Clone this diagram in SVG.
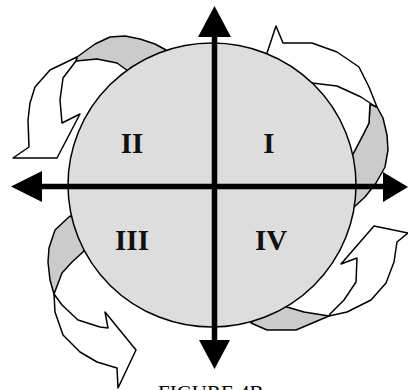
<svg xmlns="http://www.w3.org/2000/svg" width="408" height="390" viewBox="0 0 408 390">
<style>
.rb{stroke:#000;stroke-width:1.5;stroke-linejoin:round}
.back{fill:#cbcbcb}
.front{fill:#fff}
.ax{stroke:#000;stroke-width:5.5}
.lbl{font-family:"Liberation Serif","Times New Roman",serif;font-weight:bold;font-size:29px;text-anchor:middle;fill:#111}
.cap{font-family:"Liberation Serif","Times New Roman",serif;font-size:21px;fill:#000}
</style>
<rect width="408" height="390" fill="#fff"/>
<g id="connectors">
<g id="arrow-tl">
<polygon class="rb back" points="77,57 95,44 110,37 125,36 140,39 155,44 166,50 150,75 128,71 117,63 97,59 76,61"/>
<polygon class="rb front" points="77,57 50,70 35,87 30,103 28,120 29,147 13,158 57,158 80,114 62,123 60,100 63,78 76,61"/>
</g>
<g id="arrow-tr">
<polygon class="rb back" points="370,104 377,107 383,118 387,135 388,150 385,167 376,183 365,197 353,208 335,180 352,156 364,133 369,123"/>
<polygon class="rb front" points="276,26 283,43 312,43 337,52 359,67 369,87 377,107 370,104 369,123 364,133 352,156 330,130 267,53"/>
<polyline class="rb" fill="none" points="312,83 337,86 361,97 376,107"/>
</g>
<g id="arrow-br">
<polygon class="rb back" points="251,323 267,330 296,330 329,316 304,312 287,307 270,300"/>
<polygon class="rb front" points="329,316 347,312 371,300 386,283 394,262 397,242 408,233 374,226 341,264 357,258 356,282 344,300 330,314"/>
</g>
<g id="arrow-bl">
<polygon class="rb back" points="70,216 55,230 49,248 48,262 50,280 54,294 62,273 72,262 83,252 95,230"/>
<polygon class="rb front" points="54,294 55,312 63,335 80,352 97,362 117,368 118,388 136,350 105,312 108,328 100,327 78,320 62,305"/>
</g>
</g>
<g id="circle">
<ellipse cx="212" cy="185" rx="144" ry="142" fill="#dddddd" stroke="#000" stroke-width="1.5"/>
</g>
<g id="axes">
<line class="ax" x1="214.5" y1="34" x2="214.5" y2="342"/>
<line class="ax" x1="40" y1="186.5" x2="385" y2="186.5"/>
<polygon points="214.5,6 198,37 231,37" fill="#000"/>
<polygon points="214.5,369 199,340 230,340" fill="#000"/>
<polygon points="11,186.5 42,171 42,202" fill="#000"/>
<polygon points="408,187 383,172 383,202" fill="#000"/>
</g>
<g id="q2"><text class="lbl" x="132" y="153">II</text></g>
<g id="q1"><text class="lbl" x="269" y="153">I</text></g>
<g id="q3"><text class="lbl" x="132" y="250">III</text></g>
<g id="q4"><text class="lbl" x="271" y="250">IV</text></g>
<g id="caption"><text class="cap" x="158" y="400">FIGURE 4B</text></g>
</svg>
